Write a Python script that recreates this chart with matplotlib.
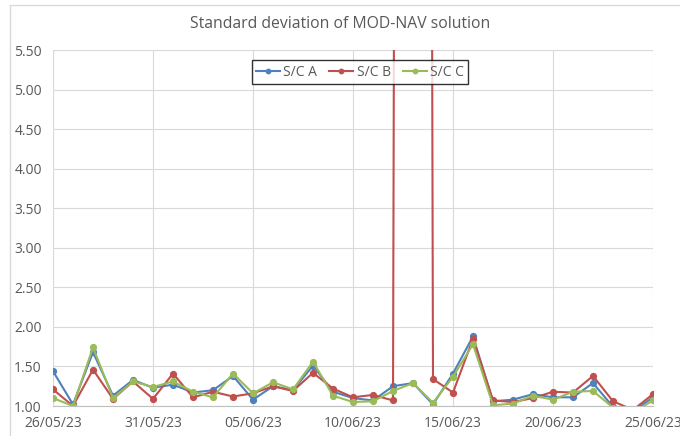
import matplotlib
matplotlib.use("Agg")
import matplotlib.pyplot as plt
import matplotlib.dates as mdates
from matplotlib.patches import Rectangle
import numpy as np
import datetime as dt

plt.rcParams['font.family'] = ['Open Sans', 'DejaVu Sans']

start = dt.date(2023, 5, 26)
dates = [start + dt.timedelta(days=i) for i in range(31)]

sc_a = [1.44, 1.02, 1.68, 1.13, 1.33, 1.23, 1.27, 1.17, 1.20, 1.38, 1.08, 1.25, 1.20, 1.51, 1.18,
        1.10, 1.07, 1.25, 1.29, 1.02, 1.41, 1.88, 1.06, 1.08, 1.15, 1.11, 1.11, 1.29, 0.99, 0.93, 1.11]
sc_b = [1.21, 1.00, 1.46, 1.09, 1.31, 1.09, 1.41, 1.11, 1.18, 1.12, 1.16, 1.25, 1.19, 1.42, 1.22,
        1.11, 1.14, 1.07, 100.0, 1.34, 1.17, 1.85, 1.07, 1.05, 1.10, 1.18, 1.17, 1.38, 1.06, 0.95, 1.15]
sc_c = [1.10, 1.00, 1.74, 1.10, 1.31, 1.24, 1.31, 1.18, 1.11, 1.41, 1.16, 1.30, 1.21, 1.56, 1.13,
        1.05, 1.06, 1.19, 1.29, 1.04, 1.37, 1.78, 1.01, 1.03, 1.13, 1.08, 1.18, 1.19, 0.98, 0.92, 1.07]
series_names = ["S/C A", "S/C B", "S/C C"]
colors = ["#4F81BD", "#C0504D", "#9BBB59"]
title = "Standard deviation of MOD-NAV solution"

W, H = 680, 436
fig = plt.figure(figsize=(W / 100, H / 100), dpi=100)
fig.patch.set_facecolor("white")

# chart area border (Excel style)
fig.patches.append(Rectangle((10 / W, -0.1), 1.2, 1.1 - 5 / H, transform=fig.transFigure,
                             fill=False, edgecolor="#D9D9D9", linewidth=1.0))

left, right, top, bottom = 53, 653, 50, 406
ax = fig.add_axes([left / W, (H - bottom) / H, (right - left) / W, (bottom - top) / H])

for vals, name, col in zip([sc_a, sc_b, sc_c], series_names, colors):
    ax.plot(dates, vals, color=col, linewidth=1.5, marker="o", markersize=4.2,
            markerfacecolor=col, markeredgecolor=col, label=name)

ax.set_ylim(1.0, 5.5)
ax.set_yticks(np.arange(1.0, 5.51, 0.5))
ax.yaxis.set_major_formatter(matplotlib.ticker.FormatStrFormatter("%.2f"))
ax.set_xlim(mdates.date2num(dates[0]), mdates.date2num(dates[-1]))
ax.set_xticks([mdates.date2num(dates[i]) for i in range(0, 31, 5)])
ax.xaxis.set_major_formatter(mdates.DateFormatter("%d/%m/%y"))

ax.grid(True, color="#D9D9D9", linewidth=0.8)
ax.set_axisbelow(True)
for s in ["top", "right", "left"]:
    ax.spines[s].set_visible(False)
ax.spines["bottom"].set_color("#BFBFBF")
ax.tick_params(axis="both", length=0, colors="#595959", labelsize=10)
ax.tick_params(axis="y", pad=8)
ax.tick_params(axis="x", pad=7)

fig.text(340 / W, (H - 24) / H, title, ha="center", va="center", fontsize=11.3, color="#595959")

leg = fig.legend(loc="center", bbox_to_anchor=(360 / W, (H - 72) / H), ncol=3, frameon=True,
                 fancybox=False, edgecolor="#000000", fontsize=10, handlelength=1.7,
                 columnspacing=0.9, handletextpad=0.25, borderpad=0.3, markerscale=0.75)
leg.get_frame().set_linewidth(1.0)
for t in leg.get_texts():
    t.set_color("#595959")

fig.savefig("out.png", dpi=100)
